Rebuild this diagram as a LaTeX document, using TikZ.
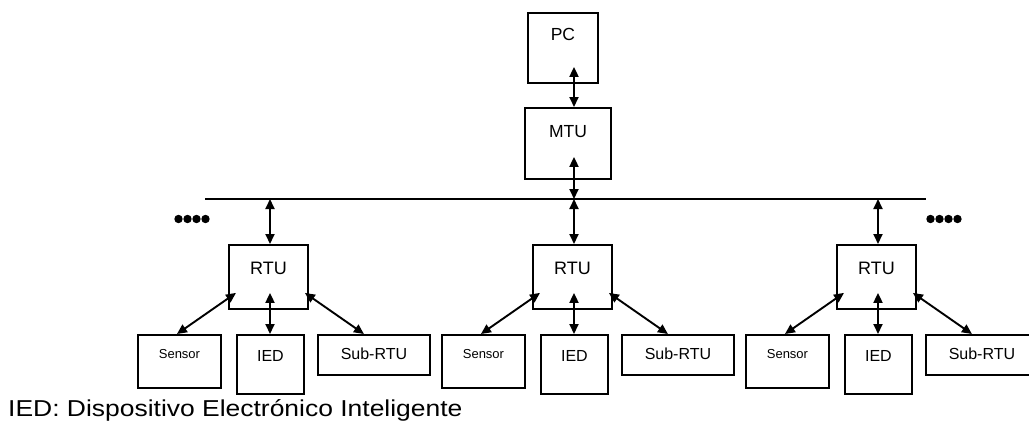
\documentclass[tikz,border=0pt]{standalone}
\usepackage{fontspec}
\setmainfont{Liberation Sans}
\newfontfamily\capfont[FakeStretch=1.15]{Liberation Sans}
\usetikzlibrary{arrows.meta,calc}
\tikzset{
  box/.style={draw, line width=1.9pt, rectangle, inner sep=0pt, anchor=north west, align=center},
  link/.style={line width=1.9pt, {Triangle[length=10pt,width=9pt]}-{Triangle[length=10pt,width=9pt]}},
  busline/.style={line width=1.9pt},
}
\begin{document}
\begin{tikzpicture}[x=1pt,y=-1pt]
\useasboundingbox (0,0) rectangle (1029,424);
\clip (0,0) rectangle (1029,424);
% top
\node[box, minimum width=70pt, minimum height=70pt, text height=28pt, text depth=42pt, font=\fontsize{17.5}{20}\selectfont] (pc) at (527,12) {PC};
\node[box, minimum width=86pt, minimum height=71pt, text height=30pt, text depth=41pt, font=\fontsize{17.5}{20}\selectfont] (mtu) at (524,107) {MTU};
\coordinate (c0) at (574,0);
\coordinate (busL) at (205,199);
\coordinate (busR) at (926,199);
\draw[busline] (busL) -- (busR);
\draw[link] ($(c0 |- pc.south)+(0,-17)$) -- (c0 |- mtu.north);
\draw[link] ($(c0 |- mtu.south)+(0,-23)$) -- (c0 |- busL);
% dots
\foreach \x in {178.5,187.5,196.5,205.5} \fill (\x,219) circle (4.2);
\foreach \x in {930.5,939.5,948.5,957.5} \fill (\x,219) circle (4.2);
% groups
\foreach \i/\c in {1/270,2/574,3/878} {
  \coordinate (col\i) at (\c,0);
  \node[box, minimum width=79pt, minimum height=64pt, text height=30pt, text depth=34pt, font=\fontsize{18}{22}\selectfont] (rtu\i) at (\c-42,244) {RTU};
  \node[box, minimum width=83pt, minimum height=53pt, text height=24pt, text depth=29pt, font=\fontsize{13}{15}\selectfont] (sen\i) at (\c-133,334) {Sensor};
  \node[box, minimum width=67pt, minimum height=59pt, text height=27pt, text depth=32pt, font=\fontsize{16}{19}\selectfont] (ied\i) at (\c-34,334) {IED};
  \node[box, minimum width=112pt, minimum height=40pt, text height=25pt, text depth=15pt, font=\fontsize{16}{19}\selectfont] (sub\i) at (\c+47,334) {Sub-RTU};
  \draw[link] (col\i |- busL) -- (col\i |- rtu\i.north);
  \draw[link] ($(rtu\i.south west)+(8,-17)$) -- ($(sen\i.north)+(-2.5,0)$);
  \draw[link] ($(col\i |- rtu\i.south)+(0,-17)$) -- (col\i |- ied\i.north);
  \draw[link] ($(rtu\i.south east)+(-4,-17)$) -- ($(sub\i.north)+(-10,0)$);
}
\node[anchor=base west, inner sep=0pt, font=\capfont\fontsize{23}{26}\selectfont] (caption) at (8,416) {IED: Dispositivo Electrónico Inteligente};
\end{tikzpicture}
\end{document}
